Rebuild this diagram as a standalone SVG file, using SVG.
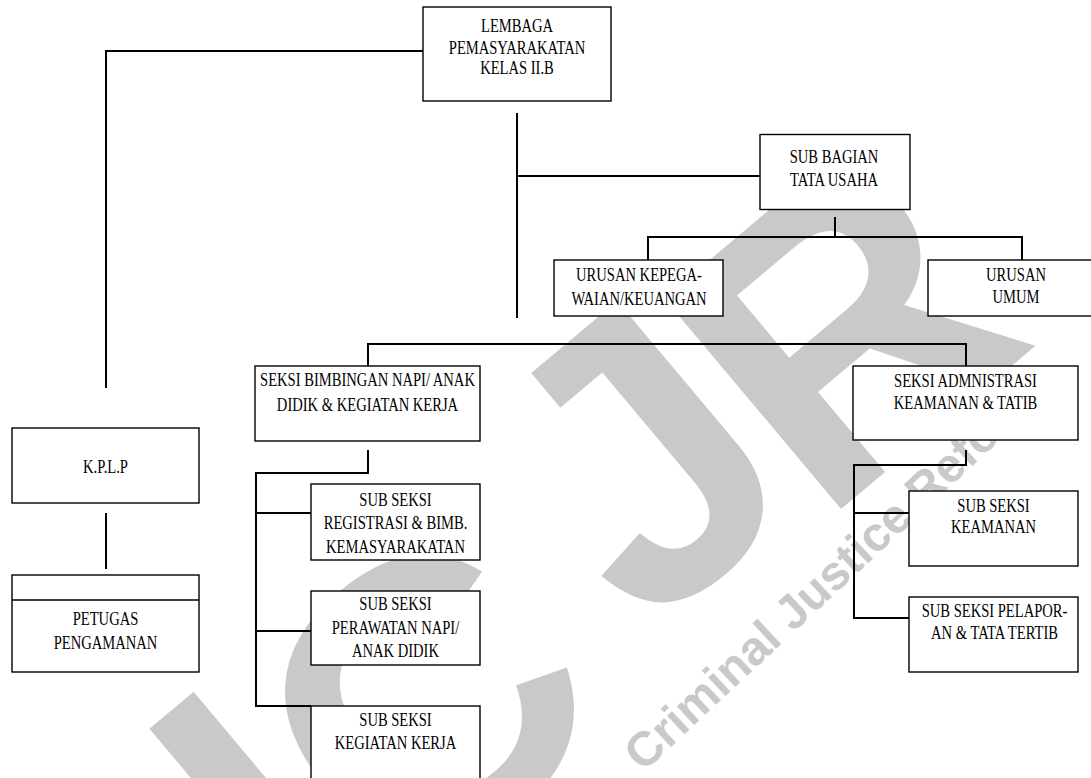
<svg xmlns="http://www.w3.org/2000/svg" width="1091" height="778" viewBox="0 0 1091 778">
<style>
.box{fill:#fff;stroke:#000;stroke-width:1.4}
.con{fill:none;stroke:#000;stroke-width:2}
.t{font-family:"Liberation Serif","Times New Roman",serif;font-size:18px;fill:#000;text-anchor:middle}
.wm{font-family:"Liberation Sans",Arial,sans-serif;font-weight:bold;fill:#c9c9c9}
</style>
<rect width="1091" height="778" fill="#fff"/>
<g id="watermark">
<g transform="translate(422,700) rotate(-40)">
<text class="wm" font-size="400" x="-254" y="122">I</text>
<text class="wm" font-size="400" x="-146" y="143">C</text>
<text class="wm" font-size="400" x="211" y="95">J</text>
<text class="wm" font-size="400" x="417" y="123">R</text>
</g>
<text class="wm" font-size="48" transform="translate(793,633) rotate(-43)" x="-205" y="0">Criminal Justice Reform</text>
</g>
<g id="connectors">
<path class="con" d="M423,51 H106 V388"/>
<path class="con" d="M517,113 V318"/>
<path class="con" d="M517,176 H760"/>
<path class="con" d="M835,217 V237"/>
<path class="con" d="M648,260 V237 H1022 V260"/>
<path class="con" d="M368,366 V344 H966 V366"/>
<path class="con" d="M368,450 V473 H256 V706 H311 M256,513 H311 M256,631 H311"/>
<path class="con" d="M966,450 V465 H854 V618 H909 M854,513 H909"/>
<path class="con" d="M106,513 V569"/>
</g>
<g id="lembaga">
<rect class="box" x="423" y="7" width="188" height="94"/>
<text class="t" transform="translate(517,32.3) scale(0.81,1)">LEMBAGA</text>
<text class="t" transform="translate(517,54) scale(0.81,1)">PEMASYARAKATAN</text>
<text class="t" transform="translate(517,74) scale(0.81,1)">KELAS II.B</text>
</g>
<g id="subbagian">
<rect class="box" x="760" y="134.5" width="150" height="75"/>
<text class="t" transform="translate(834,163.3) scale(0.81,1)">SUB BAGIAN</text>
<text class="t" transform="translate(834,186) scale(0.81,1)">TATA USAHA</text>
</g>
<g id="urusan-kepegawaian">
<rect class="box" x="554" y="260" width="169" height="56"/>
<text class="t" transform="translate(639,280.7) scale(0.81,1)">URUSAN KEPEGA-</text>
<text class="t" transform="translate(639,305) scale(0.81,1)">WAIAN/KEUANGAN</text>
</g>
<g id="urusan-umum">
<rect class="box" x="928" y="260" width="176" height="56"/>
<text class="t" transform="translate(1016,280.7) scale(0.81,1)">URUSAN</text>
<text class="t" transform="translate(1016,303) scale(0.81,1)">UMUM</text>
</g>
<g id="seksi-bimbingan">
<rect class="box" x="255" y="366" width="225" height="75"/>
<text class="t" transform="translate(367.5,386) scale(0.81,1)">SEKSI BIMBINGAN NAPI/ ANAK</text>
<text class="t" transform="translate(367.5,410.7) scale(0.81,1)">DIDIK &amp; KEGIATAN KERJA</text>
</g>
<g id="seksi-admnistrasi">
<rect class="box" x="853" y="366" width="225" height="74"/>
<text class="t" transform="translate(965.5,387.3) scale(0.81,1)">SEKSI ADMNISTRASI</text>
<text class="t" transform="translate(965.5,408.7) scale(0.81,1)">KEAMANAN &amp; TATIB</text>
</g>
<g id="sub-registrasi">
<rect class="box" x="311" y="484" width="169" height="76"/>
<text class="t" transform="translate(395.5,506) scale(0.81,1)">SUB SEKSI</text>
<text class="t" transform="translate(395.5,529.3) scale(0.81,1)">REGISTRASI &amp; BIMB.</text>
<text class="t" transform="translate(395.5,552.7) scale(0.81,1)">KEMASYARAKATAN</text>
</g>
<g id="sub-perawatan">
<rect class="box" x="311" y="591" width="169" height="74"/>
<text class="t" transform="translate(395.5,610) scale(0.81,1)">SUB SEKSI</text>
<text class="t" transform="translate(395.5,634) scale(0.81,1)">PERAWATAN NAPI/</text>
<text class="t" transform="translate(395.5,657.3) scale(0.81,1)">ANAK DIDIK</text>
</g>
<g id="sub-kegiatan">
<rect class="box" x="311" y="706" width="169" height="80"/>
<text class="t" transform="translate(395.5,726) scale(0.81,1)">SUB SEKSI</text>
<text class="t" transform="translate(395.5,749.3) scale(0.81,1)">KEGIATAN KERJA</text>
</g>
<g id="sub-keamanan">
<rect class="box" x="909" y="491" width="169" height="75"/>
<text class="t" transform="translate(993.5,511.7) scale(0.81,1)">SUB SEKSI</text>
<text class="t" transform="translate(993.5,533.3) scale(0.81,1)">KEAMANAN</text>
</g>
<g id="sub-pelaporan">
<rect class="box" x="909" y="597" width="169" height="75"/>
<text class="t" transform="translate(994.5,617.3) scale(0.81,1)">SUB SEKSI PELAPOR-</text>
<text class="t" transform="translate(994.5,639.3) scale(0.81,1)">AN &amp; TATA TERTIB</text>
</g>
<g id="kplp">
<rect class="box" x="12" y="428" width="187" height="75"/>
<text class="t" transform="translate(105.5,473.3) scale(0.81,1)">K.P.L.P</text>
</g>
<g id="petugas">
<rect class="box" x="12" y="575" width="187" height="97"/>
<line class="box" x1="12" y1="600" x2="199" y2="600"/>
<text class="t" transform="translate(105.5,625) scale(0.81,1)">PETUGAS</text>
<text class="t" transform="translate(105.5,649.3) scale(0.81,1)">PENGAMANAN</text>
</g>
</svg>
